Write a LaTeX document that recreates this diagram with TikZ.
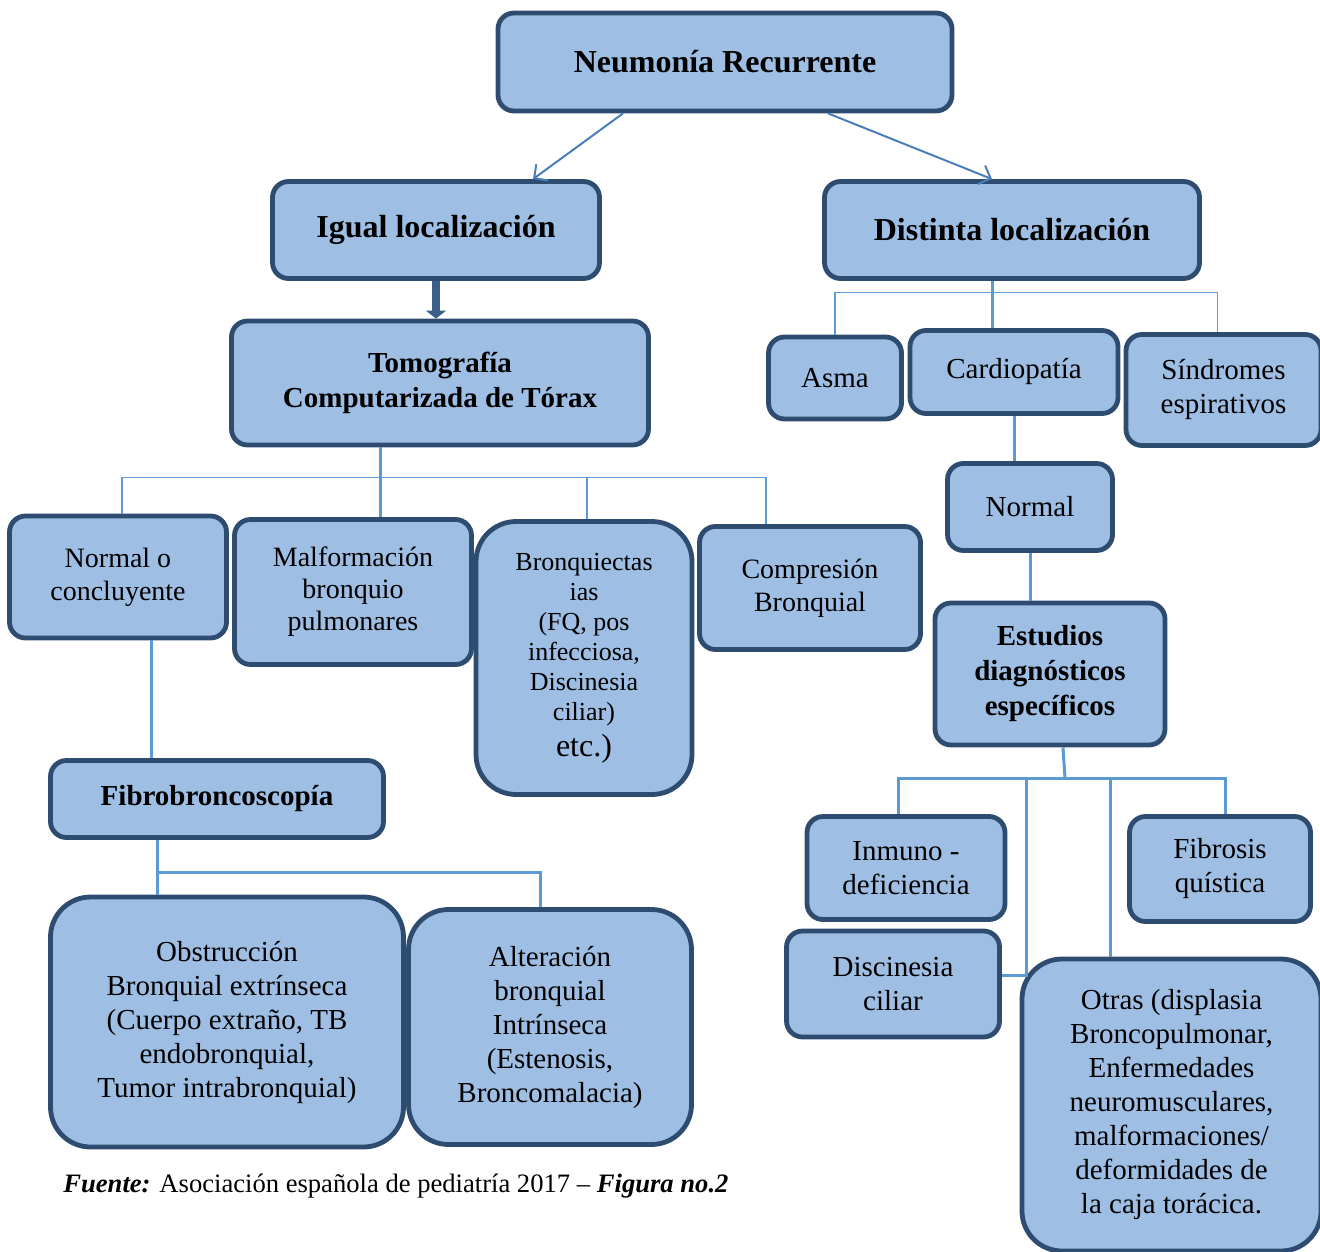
\documentclass[tikz,border=0pt]{standalone}
\usepackage{fontspec}
\setmainfont{Liberation Serif}
\usetikzlibrary{arrows.meta,calc,shadows}

\definecolor{boxfill}{HTML}{9EBEE4}
\definecolor{boxline}{HTML}{2E4B70}
\definecolor{linkblue}{HTML}{5B9BD5}
\definecolor{arrowblue}{HTML}{4A7EBB}
\definecolor{darkarrow}{HTML}{3A5F8B}

\begin{document}
\begin{tikzpicture}[x=0.5pt, y=-0.5pt,
    box/.style={draw=boxline, line width=2.4pt, fill=boxfill, rounded corners=8pt,
      align=center, inner sep=2pt, font=\fontsize{14.5}{17}\selectfont,
      drop shadow={opacity=0.25, shadow xshift=0.8pt, shadow yshift=-0.8pt}},
    bigbox/.style={box, rounded corners=20pt},
    title/.style={font=\fontsize{16}{19}\selectfont\bfseries},
    boldtext/.style={font=\fontsize{14.5}{17.5}\selectfont\bfseries},
    thickline/.style={linkblue, line width=1.5pt},
    thinline/.style={linkblue, line width=0.55pt},
    arrowline/.style={arrowblue, line width=1pt, -{Straight Barb[length=5pt, width=10pt]}}]

    % page frame
    \useasboundingbox (0,0) rectangle (1320,1251);

    % Top level
    \node[box, title, minimum width=227pt, minimum height=49pt] (top) at (725,62) {Neumonía Recurrente};
    \node[box, title, minimum width=163.5pt, minimum height=48.5pt] (igual) at (436,230) {\raisebox{-3pt}{Igual localización}};
    \node[box, title, minimum width=187.5pt, minimum height=48.5pt] (distinta) at (1012,230) {Distinta localización};

    % Left branch
    \node[box, boldtext, minimum width=208.5pt, minimum height=62pt] (tomo) at (440,383)
      {Tomografía\\Computarizada de Tórax};
    \node[box, font=\fontsize{14}{16.5}\selectfont, minimum width=108.5pt, minimum height=61pt] (normalo) at (118,577)
      {\raisebox{3pt}{Normal o}\\\raisebox{3pt}{concluyente}};
    \node[box, font=\fontsize{14}{16}\selectfont, minimum width=118.5pt, minimum height=72.5pt] (malf) at (353,592)
      {Malformación\\bronquio\\pulmonares};
    \node[bigbox, font=\fontsize{13}{15}\selectfont, minimum width=108pt, minimum height=136.5pt] (bronq) at (584,658)
      {Bronquiectas\\ias\\(FQ, pos\\infecciosa,\\Discinesia\\ciliar)\\[3pt]{\fontsize{16}{18}\selectfont etc.)}};
    \node[box, font=\fontsize{14}{16.5}\selectfont, minimum width=110.5pt, minimum height=61.5pt] (compr) at (810,588)
      {\raisebox{3pt}{Compresión}\\\raisebox{3pt}{Bronquial}};
    \node[box, boldtext, minimum width=166.5pt, minimum height=38.5pt] (fibro) at (217,799) {Fibrobroncoscopía};
    \node[bigbox, minimum width=176.5pt, minimum height=125pt] (obstr) at (227,1022)
      {Obstrucción\\Bronquial extrínseca\\(Cuerpo extraño, TB\\endobronquial,\\Tumor intrabronquial)};
    \node[bigbox, minimum width=141.5pt, minimum height=117.5pt] (alter) at (550,1027)
      {Alteración\\bronquial\\Intrínseca\\(Estenosis,\\Broncomalacia)};

    % Right branch
    \node[box, minimum width=66.5pt, minimum height=41pt] (asma) at (835,378) {Asma};
    \node[box, minimum width=104pt, minimum height=41.5pt] (cardio) at (1014,372) {Cardiopatía};
    \node[box, minimum width=97.5pt, minimum height=55.5pt] (sindromes) at (1223.5,390) {Síndromes\\espirativos};
    \node[box, minimum width=82.5pt, minimum height=43.5pt] (normalc) at (1030,507) {Normal};
    \node[box, boldtext, minimum width=115pt, minimum height=71pt] (estudios) at (1050,674)
      {Estudios\\diagnósticos\\específicos};
    \node[box, minimum width=99pt, minimum height=51.5pt] (inmuno) at (906,868) {Inmuno -\\deficiencia};
    \node[box, minimum width=90.5pt, minimum height=52.5pt] (fibrosis) at (1220,869) {Fibrosis\\quística};
    \node[box, minimum width=106.5pt, minimum height=53pt] (discin) at (893,984) {Discinesia\\ciliar};
    \node[bigbox, minimum width=149.5pt, minimum height=146pt] (otras) at (1171.5,1105)
      {Otras (displasia\\Broncopulmonar,\\Enfermedades\\neuromusculares,\\malformaciones/\\deformidades de\\la caja torácica.};

    % Source line
    \node[anchor=west, inner sep=0pt, font=\fontsize{13.3}{16}\selectfont] (fuente) at (63,1186)
      {\textbf{\textit{Fuente:}} Asociación española de pediatría 2017 – \textbf{\textit{Figura no.2}}};

    % Arrows from the top box
    \draw[arrowline] ([xshift=-51pt]top.south) -- ([xshift=48.5pt]igual.north);
    \draw[arrowline] ([xshift=51.5pt]top.south) -- ([xshift=-10pt]distinta.north);
    \draw[darkarrow, line width=4pt, -{Triangle[length=4pt, width=10pt]}]
      (igual.south) -- (igual.south |- tomo.north);

    % Tomografia bus
    \coordinate (tbus) at ([yshift=-15pt]tomo.south);
    \draw[thickline] ([xshift=-30pt]tomo.south) -- ([xshift=-30pt]tomo.south |- malf.north);
    \draw[thinline] ([xshift=2pt]normalo.north) |- (tbus) -| ([xshift=-22pt]compr.north);
    \draw[thinline] ([xshift=1.5pt]bronq.north |- tbus) -- ([xshift=1.5pt]bronq.north);

    % Fibrobroncoscopia bus
    \coordinate (fbus) at ([yshift=-16.5pt]fibro.south);
    \draw[thickline] ([xshift=16.5pt]normalo.south) -- ([xshift=16.5pt]normalo.south |- fibro.north);
    \draw[thickline] ([xshift=-30pt]fibro.south) -- ([xshift=-30pt]fibro.south |- obstr.north);
    \draw[thickline] ([xshift=-30pt]fibro.south |- fbus) -| ([xshift=-5pt]alter.north);

    % Distinta localizacion bus
    \coordinate (dbus) at ([yshift=-6pt]distinta.south);
    \draw[thickline] ([xshift=-10pt]distinta.south) -- ([xshift=-10pt]distinta.south |- cardio.north);
    \draw[thinline] (asma.north) |- (dbus) -| ([xshift=-3pt]sindromes.north);
    \draw[thickline] (cardio.south) -- (cardio.south |- normalc.north);
    \draw[thickline] (normalc.south) -- (normalc.south |- estudios.north);

    % Estudios bus
    \coordinate (ebus) at ([xshift=7.5pt, yshift=-15.5pt]estudios.south);
    \draw[thickline] ([xshift=6.5pt]estudios.south) -- (ebus);
    \draw[thickline] ([xshift=-4pt]inmuno.north) |- (ebus) -| ([xshift=2.5pt]fibrosis.north);
    \draw[thickline] ([yshift=4.5pt]discin.east) -| ([xshift=12.5pt]discin.east |- ebus);
    \draw[thickline] ([xshift=-30.5pt]otras.north) -- ([xshift=-30.5pt]otras.north |- ebus);
\end{tikzpicture}
\end{document}
